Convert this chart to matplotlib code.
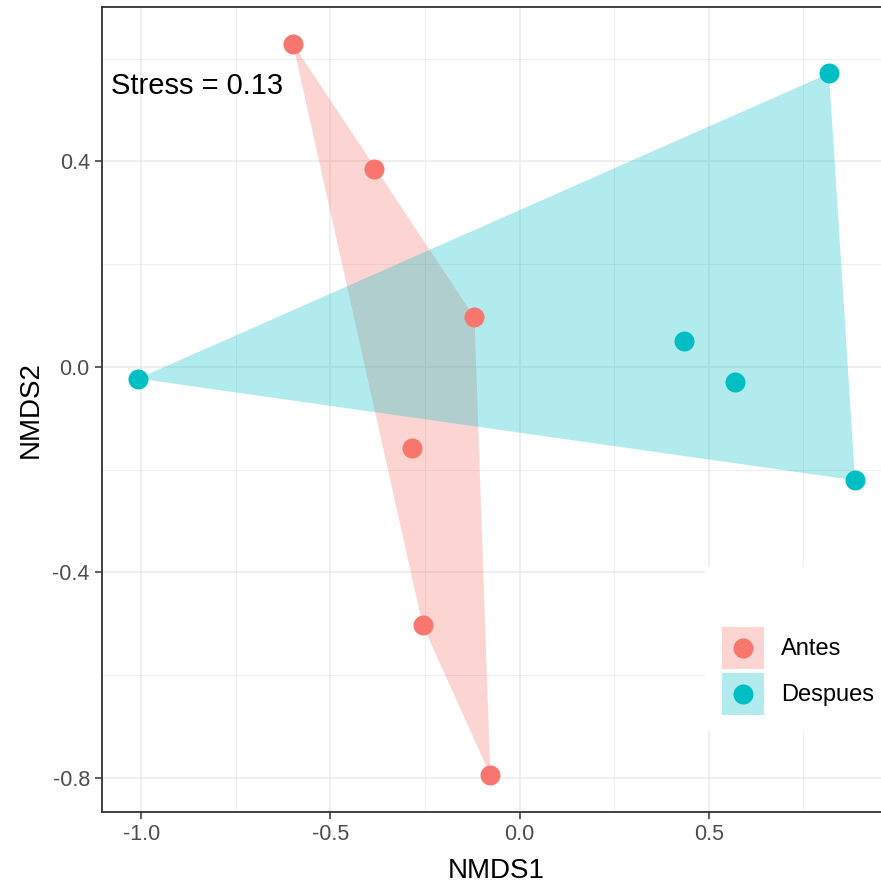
import numpy as np
import matplotlib
matplotlib.use('Agg')
import matplotlib.pyplot as plt
from matplotlib.patches import Rectangle
from matplotlib.lines import Line2D
from matplotlib.ticker import MultipleLocator

plt.rcParams['font.family'] = ['Liberation Sans', 'DejaVu Sans']

# NMDS scores
groups = ['Antes', 'Despues']
colors = ['#F8766D', '#00BFC4']
antes_x = [-0.599, -0.385, -0.119, -0.285, -0.256, -0.077]
antes_y = [0.629, 0.384, 0.096, -0.159, -0.503, -0.795]
despues_x = [-1.008, 0.818, 0.435, 0.570, 0.887]
despues_y = [-0.023, 0.571, 0.051, -0.030, -0.221]
stress_label = 'Stress = 0.13'
stress_pos = (-1.08, 0.547)

xs = [np.array(antes_x), np.array(despues_x)]
ys = [np.array(antes_y), np.array(despues_y)]


def convex_hull(px, py):
    pts = sorted(zip(px, py))
    def cross(o, a, b):
        return (a[0]-o[0])*(b[1]-o[1]) - (a[1]-o[1])*(b[0]-o[0])
    lower, upper = [], []
    for p in pts:
        while len(lower) >= 2 and cross(lower[-2], lower[-1], p) <= 0:
            lower.pop()
        lower.append(p)
    for p in reversed(pts):
        while len(upper) >= 2 and cross(upper[-2], upper[-1], p) <= 0:
            upper.pop()
        upper.append(p)
    return np.array(lower[:-1] + upper[:-1])


class KeyHandler:
    # ggplot style key: filled square with a dot in the middle
    def legend_artist(self, legend, orig_handle, fontsize, handlebox):
        c = orig_handle.get_color()
        x0, y0 = -handlebox.xdescent, -handlebox.ydescent
        w, h = handlebox.width, handlebox.height
        tr = handlebox.get_transform()
        rect = Rectangle((x0, y0), w, h, facecolor=c, alpha=0.3,
                         edgecolor='none', transform=tr)
        dot = Line2D([x0 + w / 2], [y0 + h / 2], marker='o', ls='none',
                     markersize=14.4, markerfacecolor=c, markeredgewidth=0,
                     transform=tr)
        handlebox.add_artist(rect)
        handlebox.add_artist(dot)
        return rect


fig = plt.figure(figsize=(8.81, 8.83), dpi=100)
ax = fig.add_axes([0.1161, 0.0807, 0.8952, 0.9113])

for gx, gy, c in zip(xs, ys, colors):
    hull = convex_hull(gx, gy)
    ax.fill(hull[:, 0], hull[:, 1], color=c, alpha=0.3, lw=0, zorder=2)
for gx, gy, c in zip(xs, ys, colors):
    ax.scatter(gx, gy, s=207, color=c, lw=0, zorder=3)

# ggplot-like 5% expansion
allx = np.concatenate(xs)
ally = np.concatenate(ys)
dx = (allx.max() - allx.min()) * 0.05
dy = (ally.max() - ally.min()) * 0.05
ax.set_xlim(allx.min() - dx, allx.max() + dx)
ax.set_ylim(ally.min() - dy, ally.max() + dy)

ax.xaxis.set_minor_locator(MultipleLocator(0.25))
ax.yaxis.set_minor_locator(MultipleLocator(0.2))
ax.set_yticks([0.4, 0.0, -0.4, -0.8])
ax.set_xticks([-1.0, -0.5, 0.0, 0.5])
ax.set_xticklabels(['-1.0', '-0.5', '0.0', '0.5'])
ax.set_yticklabels(['0.4', '0.0', '-0.4', '-0.8'])

ax.set_axisbelow(True)
ax.grid(which='major', color='#EBEBEB', lw=1.1)
ax.grid(which='minor', color='#EBEBEB', lw=0.6)
ax.tick_params(which='major', length=5, width=1.1, color='#333333',
               labelcolor='#4D4D4D', labelsize=15.5, pad=4)
ax.tick_params(which='minor', length=0)
for sp in ax.spines.values():
    sp.set_color('#333333')
    sp.set_linewidth(1.3)

ax.set_xlabel('NMDS1', fontsize=20, labelpad=9)
ax.set_ylabel('NMDS2', fontsize=20, labelpad=6)

ax.text(stress_pos[0], stress_pos[1], stress_label, fontsize=21,
        ha='left', va='center', zorder=4)

# legend background
bg = Rectangle((0.8002, 0.1721), 0.3, 0.1857, transform=fig.transFigure,
               facecolor='white', edgecolor='none', zorder=1.5)
ax.add_patch(bg)

handles = [Line2D([], [], color=c) for c in colors]
ax.legend(handles, groups, handler_map={Line2D: KeyHandler()},
          loc='upper left', bbox_to_anchor=(0.8192, 0.2903),
          bbox_transform=fig.transFigure, frameon=False, fontsize=17,
          handlelength=1.78, handleheight=2.356, handletextpad=0.72,
          labelspacing=0.17, borderpad=0, borderaxespad=0)

fig.savefig('out.png', dpi=100)
